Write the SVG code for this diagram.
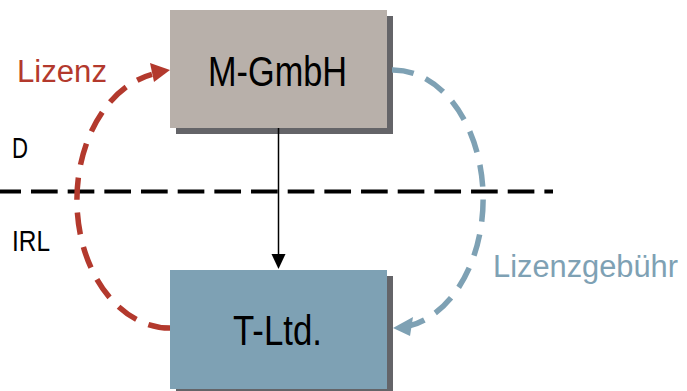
<svg xmlns="http://www.w3.org/2000/svg" width="687" height="391" viewBox="0 0 687 391">
<style>
.shadow{fill:#646468}
.lbl{font-family:"Liberation Sans",Arial,sans-serif;fill:#000}
.big{font-size:43px}
.side{font-size:30px}
</style>
<rect width="687" height="391" fill="#fff"/>
<g id="border">
<line x1="0" y1="191.5" x2="553" y2="191.5" stroke="#000" stroke-width="4" stroke-dasharray="26.67 10" stroke-dashoffset="5.67"/>
<text class="lbl side" x="12" y="158" textLength="16" lengthAdjust="spacingAndGlyphs">D</text>
<text class="lbl side" x="12" y="251" textLength="38" lengthAdjust="spacingAndGlyphs">IRL</text>
</g>
<g id="m-gmbh">
<rect class="shadow" x="176" y="16" width="217" height="118"/>
<rect x="170" y="10" width="217" height="118" fill="#b8b0aa"/>
<text class="lbl big" x="208" y="86" textLength="139" lengthAdjust="spacingAndGlyphs">M-GmbH</text>
</g>
<g id="t-ltd">
<rect class="shadow" x="176" y="276" width="217" height="118"/>
<rect x="170" y="270" width="217" height="119" fill="#7ea1b4"/>
<text class="lbl big" x="233" y="345" textLength="89" lengthAdjust="spacingAndGlyphs">T-Ltd.</text>
</g>
<g id="connectors">
<line x1="278.5" y1="128" x2="278.5" y2="256" stroke="#000" stroke-width="1.5"/>
<polygon points="278.5,269 271.5,254 285.5,254" fill="#000"/>
<path d="M170,328 A93,128 0 0 1 152,74.4" fill="none" stroke="#b3392d" stroke-width="5.5" stroke-dasharray="22 13"/>
<polygon points="170,70 150,63 154,82" fill="#b3392d"/>
<path d="M392,70 A90,129 0 0 1 410,325.7" fill="none" stroke="#7ea1b4" stroke-width="5.5" stroke-dasharray="22 13"/>
<polygon points="393,328 413,317 410,336" fill="#7ea1b4"/>
</g>
<g id="labels">
<text x="17" y="82" font-family="'Liberation Sans',Arial,sans-serif" font-size="31" fill="#b3392d" textLength="90" lengthAdjust="spacingAndGlyphs">Lizenz</text>
<text x="493" y="277" font-family="'Liberation Sans',Arial,sans-serif" font-size="31" fill="#7ea1b4" textLength="185" lengthAdjust="spacingAndGlyphs">Lizenzgebühr</text>
</g>
</svg>
